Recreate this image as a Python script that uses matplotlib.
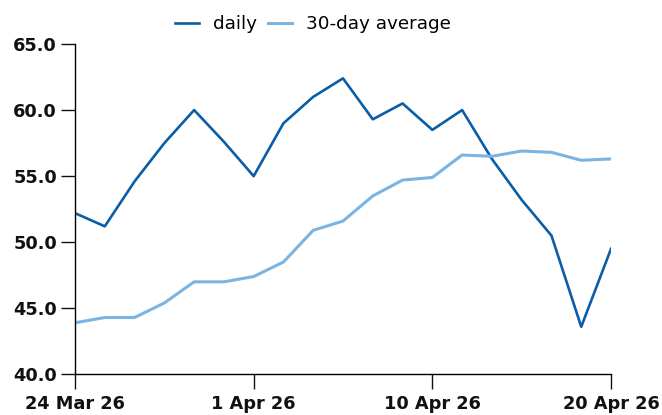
import matplotlib; matplotlib.use('Agg')
import matplotlib.pyplot as plt

dates = ['24 Mar 26', '25 Mar 26', '26 Mar 26', '27 Mar 26', '30 Mar 26', '31 Mar 26',
         '1 Apr 26', '2 Apr 26', '6 Apr 26', '7 Apr 26', '8 Apr 26', '9 Apr 26',
         '10 Apr 26', '13 Apr 26', '14 Apr 26', '15 Apr 26', '16 Apr 26', '17 Apr 26', '20 Apr 26']
daily = [52.2, 51.2, 54.6, 57.5, 60.0, 57.6, 55.0, 59.0, 61.0, 62.4, 59.3, 60.5,
         58.5, 60.0, 56.3, 53.2, 50.5, 43.6, 49.5]
avg30 = [43.9, 44.3, 44.3, 45.4, 47.0, 47.0, 47.4, 48.5, 50.9, 51.6, 53.5, 54.7,
         54.9, 56.6, 56.5, 56.9, 56.8, 56.2, 56.3]
tick_idx = [0, 6, 12, 18]
yticks = [40, 45, 50, 55, 60, 65]

plt.rcParams.update({'font.family': 'DejaVu Sans'})

fig = plt.figure(figsize=(6.62, 4.15), dpi=100)
ax = fig.add_axes([0.1133, 0.098, 0.8097, 0.796])
x = list(range(len(dates)))
ax.plot(x, daily, color='#0a5da6', lw=1.9, label='daily')
ax.plot(x, avg30, color='#7ab4e2', lw=2.2, label='30-day average')

ax.set_xlim(0, len(dates) - 1)
ax.set_ylim(40, 65)
ax.set_xticks(tick_idx)
ax.set_xticklabels([dates[i] for i in tick_idx], fontweight='bold', fontsize=12.8)
ax.set_yticks(yticks)
ax.set_yticklabels([f'{v:.1f}' for v in yticks], fontweight='bold', fontsize=12.8)
for s in ['top', 'right']:
    ax.spines[s].set_visible(False)
for s in ['left', 'bottom']:
    ax.spines[s].set_linewidth(1.0)
ax.tick_params(axis='y', length=10, width=1.0, pad=3, colors='#111111')
ax.tick_params(axis='x', length=11, width=1.0, pad=4, colors='#111111')

ax.legend(loc='lower center', bbox_to_anchor=(0.444, 1.0), ncol=2, frameon=False,
          fontsize=13.2, handlelength=1.3, handletextpad=0.75, columnspacing=0.6,
          borderaxespad=0.2)

fig.savefig('out.png', dpi=100, facecolor='white')
